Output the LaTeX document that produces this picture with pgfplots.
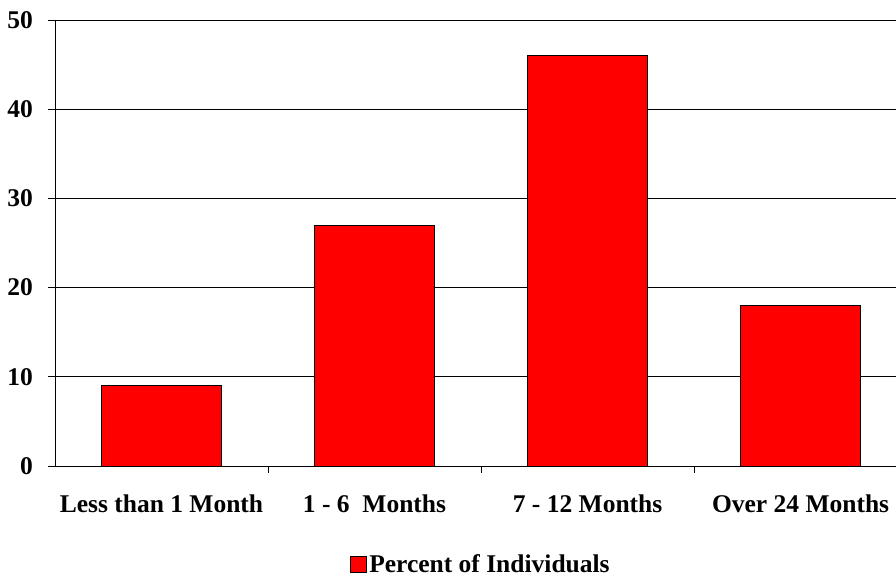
\documentclass[border=0pt]{standalone}
\usepackage{fontspec}
\setmainfont{Liberation Serif}
\usepackage{pgfplots}
\pgfplotsset{compat=1.18}

\pgfplotstableread{
x value
0 9
1 27
2 46
3 18
}\durationdata

\begin{document}
\begin{tikzpicture}
\useasboundingbox (-55pt,-111pt) rectangle (841pt,466pt);
\begin{axis}[
  at={(0,0)}, anchor=south west,
  width=841pt, height=446pt,
  scale only axis,
  xmin=-0.5, xmax=3.448,
  ymin=0, ymax=50,
  ytick={0,10,...,50},
  xtick={0,1,2,3},
  xticklabels={Less than 1 Month, 1 - 6\ \ Months, 7 - 12 Months, Over 24 Months},
  minor xtick={0.5,1.5,2.5},
  major x tick style={draw=none},
  tick align=outside,
  major tick length=7pt,
  minor tick length=7pt,
  axis x line*=bottom,
  axis y line*=left,
  axis line style={black, line width=0.9pt, -},
  tick style={black, line width=0.8pt},
  ymajorgrids,
  grid style={black, line width=0.8pt},
  /pgf/number format/assume math mode=true,
  font=\fontsize{25.5}{30}\selectfont\bfseries,
  yticklabel style={inner sep=0pt, anchor=east, xshift=-15pt},
  xticklabel style={inner sep=0pt, anchor=north, yshift=-22pt},
  clip=false,
  legend style={at={(0.5066,-0.2200)}, anchor=center, draw=none, fill=none,
    font=\fontsize{25.5}{30}\selectfont\bfseries,
    /tikz/column 2/.style={column sep=3pt}},
  legend image code/.code={\draw[#1] (0pt,-8pt) rectangle (16pt,8pt);},
]
\addplot[ybar, bar width=120pt, bar shift=0pt, fill=red, draw=black, line width=0.8pt]
  table[x=x, y=value] {\durationdata};
\addlegendentry{Percent of Individuals}
\end{axis}
\end{tikzpicture}
\end{document}
